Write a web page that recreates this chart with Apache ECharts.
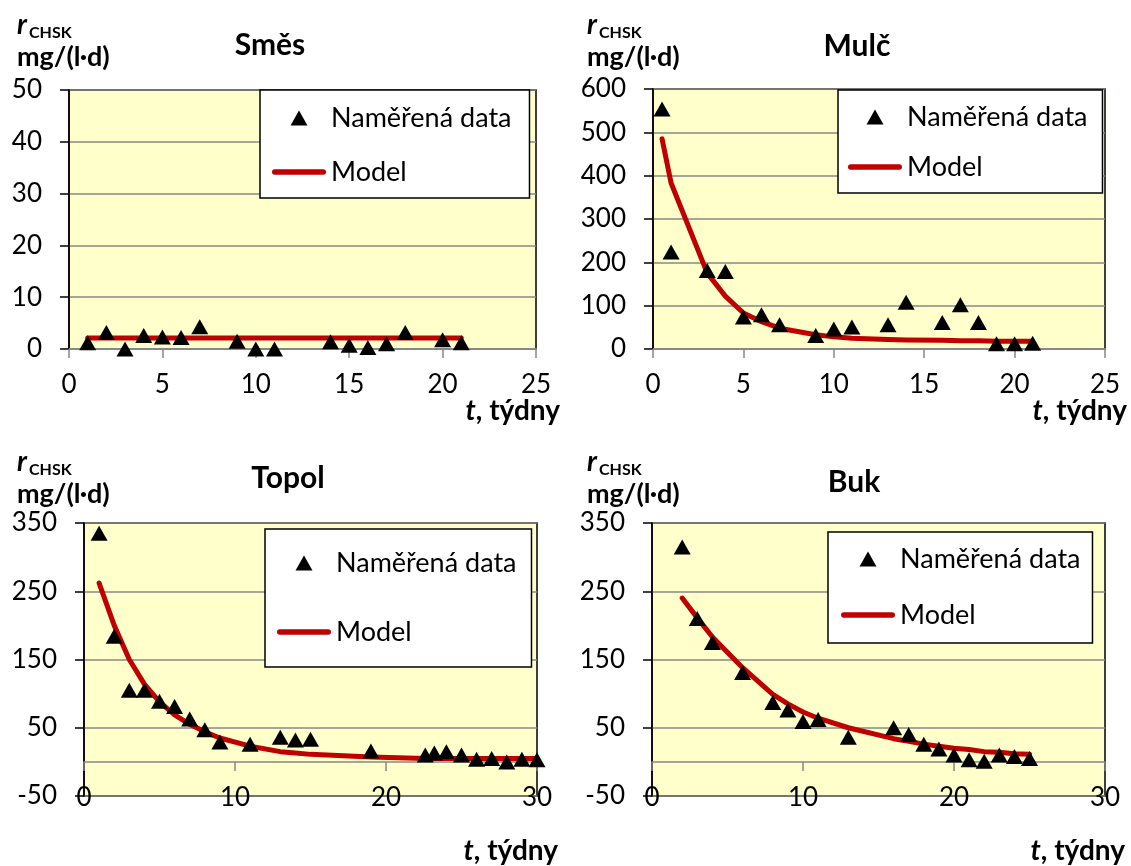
<!DOCTYPE html>
<html><head><meta charset="utf-8">
<script src="https://cdn.jsdelivr.net/npm/echarts@6/dist/echarts.min.js"></script>
<style>html,body{margin:0;padding:0;background:#fff}#c{width:1131px;height:866px}</style>
</head><body><div id="c"></div>
<script>
// ---- data ----
const smesX = [1, 2, 3, 4, 5, 6, 7, 9, 10, 11, 14, 15, 16, 17, 18, 20, 21];
const smesY = [1.2, 3.2, 0, 2.6, 2.3, 2.2, 4.3, 1.5, 0, 0, 1.4, 0.7, 0.3, 1.0, 3.2, 1.8, 1.2];
const smesModelX = [1, 2, 3, 4, 5, 6, 7, 9, 10, 11, 14, 15, 16, 17, 18, 20, 21];
const smesModelY = [2.1, 2.1, 2.1, 2.1, 2.1, 2.1, 2.1, 2.1, 2.1, 2.1, 2.1, 2.1, 2.1, 2.1, 2.1, 2.1, 2.1];

const mulcX = [0.5, 1, 3, 4, 5, 6, 7, 9, 10, 11, 13, 14, 16, 17, 18, 19, 20, 21];
const mulcY = [554, 224, 181, 179, 74, 79, 56, 31, 46, 51, 56, 108, 61, 102, 61, 12, 12, 13];
const mulcModelX = [0.5, 1, 3, 4, 5, 6, 7, 9, 10, 11, 13, 14, 16, 17, 18, 19, 20, 21];
const mulcModelY = [485, 383, 175, 122, 83, 63, 48, 33, 28, 25, 22, 21, 20, 19, 19, 18, 18, 18];

const topolX = [1, 2, 3, 4, 5, 6, 7, 8, 9, 11, 13, 14, 15, 19, 22.6, 23.2, 24, 25, 26, 27, 28, 29, 30];
const topolY = [335, 184, 105, 105, 89, 81, 63, 47, 29, 26, 36, 32, 33, 16, 10, 13, 15, 10, 4, 5, 0, 4, 3];
const topolModelX = [1, 2, 3, 4, 5, 6, 7, 8, 9, 11, 13, 14, 15, 19, 22.6, 23.2, 24, 25, 26, 27, 28, 29, 30];
const topolModelY = [262, 200, 150, 114, 88, 69, 55, 44, 35, 23, 15, 13, 11, 7, 5, 5, 5, 5, 5, 5, 5, 5, 5];

const bukX = [2, 3, 4, 6, 8, 9, 10, 11, 13, 16, 17, 18, 19, 20, 21, 22, 23, 24, 25];
const bukY = [315, 210, 175, 131, 87, 76, 59, 62, 36, 50, 40, 26, 19, 10, 3, 1, 10, 8, 5];
const bukModelX = [2, 3, 4, 6, 8, 9, 10, 11, 13, 16, 17, 18, 19, 20, 21, 22, 23, 24, 25];
const bukModelY = [240, 211, 183, 138, 99, 85, 73, 64, 50, 34, 30, 26, 23, 20, 18, 15, 14, 12, 11];

const titles = ['Směs', 'Mulč', 'Topol', 'Buk'];
const seriesNames = ['Naměřená data', 'Model'];
const yUnitSub = 'CHSK';
const yUnit = 'mg/(l·d)';
const xName = ', týdny';

// ---- layout ----
const FONT = 'Lato';
const panels = [
  { grid: {left: 69, top: 90, width: 467, height: 259}, x: [0, 25, 5], y: [0, 50, 10],
    pts: [smesX, smesY], model: [smesModelX, smesModelY], zero: false,
    legend: {left: 260, top: 90, padding: [14, 18, 12, 12], itemGap: 26},
    title: [270, 45], rPos: [17, 25], xNamePos: [560, 411] },
  { grid: {left: 653, top: 89, width: 452, height: 260}, x: [0, 25, 5], y: [0, 600, 100],
    pts: [mulcX, mulcY], model: [mulcModelX, mulcModelY], zero: false,
    legend: {left: 838, top: 90, padding: [13, 15, 12, 10], itemGap: 22},
    title: [857, 46], rPos: [587, 25], xNamePos: [1127, 411] },
  { grid: {left: 84, top: 523, width: 453, height: 273}, x: [0, 30, 10], y: [-50, 350, 100],
    pts: [topolX, topolY], model: [topolModelX, topolModelY], zero: true,
    legend: {left: 265, top: 529, padding: [20, 15, 21, 12], itemGap: 41},
    title: [288, 478], rPos: [17, 462], xNamePos: [558, 851] },
  { grid: {left: 652, top: 523, width: 453, height: 273}, x: [0, 30, 10], y: [-50, 350, 100],
    pts: [bukX, bukY], model: [bukModelX, bukModelY], zero: true,
    legend: {left: 828, top: 532, padding: [13, 12, 14, 13], itemGap: 28},
    title: [854, 482], rPos: [587, 462], xNamePos: [1125, 851] }
];

const zip = (a, b) => a.map((v, i) => [v, b[i]]);
const GRAY = '#878787';
const TRI_ICON = 'path://M0,0M54,16M18.5,15.5L27,0.5L35.5,15.5Z';
const LINE_ICON = 'path://M0,0M54,16M2.75,5.25L51.25,5.25A2.75,2.75,0,0,1,51.25,10.75L2.75,10.75A2.75,2.75,0,0,1,2.75,5.25Z';
const option = { animation: false, backgroundColor: '#fff',
  grid: [], xAxis: [], yAxis: [], series: [], legend: [], graphic: [] };

panels.forEach((p, i) => {
  option.grid.push(Object.assign({show: true, backgroundColor: '#FFFFCC', borderColor: '#000', borderWidth: 1.5}, p.grid));
  const yIdx = option.yAxis.length;
  option.yAxis.push({gridIndex: i, type: 'value', min: p.y[0], max: p.y[1], interval: p.y[2],
    axisLine: {show: true, onZero: false, lineStyle: {color: '#000', width: 1.5}},
    axisTick: {show: true, length: 9, lineStyle: {color: '#000', width: 1.5}},
    axisLabel: {margin: 27, fontSize: 26, color: '#000', fontFamily: FONT},
    splitLine: {show: true, lineStyle: {color: GRAY, width: 1.5}}});
  const xIdx = option.xAxis.length;
  if (!p.zero) {
    option.xAxis.push({gridIndex: i, type: 'value', min: p.x[0], max: p.x[1], interval: p.x[2], position: 'bottom',
      axisLine: {show: true, onZero: false, lineStyle: {color: GRAY, width: 2}},
      axisTick: {show: true, length: 9, lineStyle: {color: GRAY, width: 1.5}},
      axisLabel: {margin: 23, fontSize: 26, color: '#000', fontFamily: FONT},
      splitLine: {show: false}});
  } else {
    option.xAxis.push({gridIndex: i, type: 'value', min: p.x[0], max: p.x[1], interval: p.x[2], position: 'bottom',
      axisLine: {show: false, onZero: false}, axisTick: {show: false},
      axisLabel: {margin: -11, fontSize: 26, color: '#000', fontFamily: FONT},
      splitLine: {show: false}});
    option.xAxis.push({gridIndex: i, type: 'value', min: p.x[0], max: p.x[1], interval: p.x[2], position: 'top',
      axisLine: {show: true, onZero: true, lineStyle: {color: GRAY, width: 1.5}},
      axisTick: {show: true, inside: true, length: 9, lineStyle: {color: GRAY, width: 1.5}},
      axisLabel: {show: false}, splitLine: {show: false}});
  }
  option.series.push({type: 'line', name: seriesNames[1], xAxisIndex: xIdx, yAxisIndex: yIdx,
    data: zip(p.model[0], p.model[1]), symbol: 'none', showSymbol: false, smooth: false,
    lineStyle: {color: '#C00000', width: 5, cap: 'round', join: 'round'}, itemStyle: {color: '#C00000'}, z: 2});
  option.series.push({type: 'scatter', name: seriesNames[0], xAxisIndex: xIdx, yAxisIndex: yIdx,
    data: zip(p.pts[0], p.pts[1]), symbol: 'triangle', symbolSize: [17, 15],
    itemStyle: {color: '#000', opacity: 1}, z: 3});
  option.legend.push(Object.assign({orient: 'vertical', itemWidth: 54, itemHeight: 16,
    backgroundColor: '#fff', borderColor: '#000', borderWidth: 1.5, selectedMode: false,
    textStyle: {fontFamily: FONT, fontSize: 27, color: '#000', lineHeight: 28},
    data: [{name: seriesNames[0], icon: TRI_ICON, itemStyle: {color: '#000', opacity: 1}},
           {name: seriesNames[1], icon: LINE_ICON, itemStyle: {color: '#C00000'}}]}, p.legend));
  // texts
  option.graphic.push({type: 'text', x: p.title[0], y: p.title[1],
    style: {text: titles[i], font: 'bold 30px ' + FONT, fill: '#000', textAlign: 'center', textVerticalAlign: 'middle'}});
  option.graphic.push({type: 'text', x: p.rPos[0], y: p.rPos[1],
    style: {text: 'r', font: 'italic bold 28px ' + FONT, fill: '#000', textAlign: 'left', textVerticalAlign: 'middle'}});
  option.graphic.push({type: 'text', x: p.rPos[0] + 12, y: p.rPos[1] + 8,
    style: {text: yUnitSub, font: 'bold 16px ' + FONT, fill: '#000', textAlign: 'left', textVerticalAlign: 'middle'}});
  option.graphic.push({type: 'text', x: p.rPos[0], y: p.rPos[1] + 32,
    style: {text: yUnit, font: 'bold 27px ' + FONT, fill: '#000', textAlign: 'left', textVerticalAlign: 'middle'}});
  option.graphic.push({type: 'text', x: p.xNamePos[0], y: p.xNamePos[1],
    style: {text: '{i|t}{b|' + xName + '}', textAlign: 'right', textVerticalAlign: 'middle', fill: '#000',
      rich: {i: {fontFamily: FONT, fontStyle: 'italic', fontWeight: 'bold', fontSize: 28, fill: '#000'},
             b: {fontFamily: FONT, fontWeight: 'bold', fontSize: 28, fill: '#000'}}}});
});

const chart = echarts.init(document.getElementById('c'));
chart.setOption(option);
</script></body></html>
